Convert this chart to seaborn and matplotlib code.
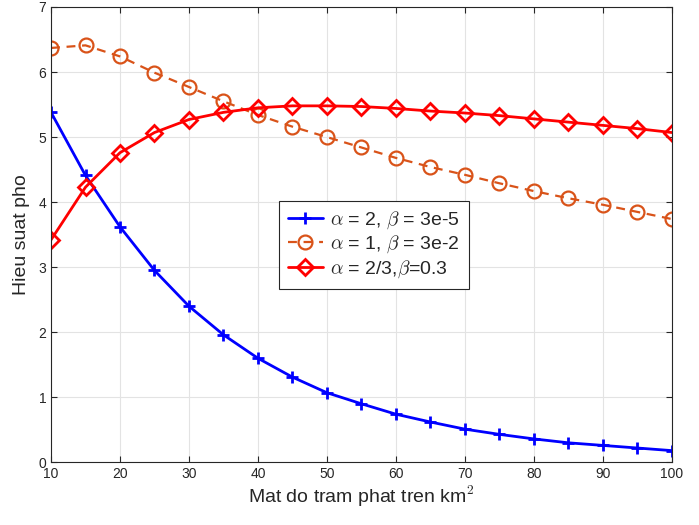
import numpy as np
import pandas as pd
import matplotlib
matplotlib.use("Agg")
import matplotlib.pyplot as plt
import seaborn as sns

density = [10, 15, 20, 25, 30, 35, 40, 45, 50, 55, 60, 65, 70, 75, 80, 85, 90, 95, 100]
se_a2 = [5.38, 4.41, 3.62, 2.95, 2.40, 1.96, 1.60, 1.31, 1.07, 0.90, 0.74, 0.62, 0.51, 0.43, 0.36, 0.30, 0.26, 0.22, 0.18]
se_a1 = [6.37, 6.41, 6.24, 5.99, 5.77, 5.55, 5.34, 5.16, 5.00, 4.84, 4.68, 4.54, 4.42, 4.29, 4.17, 4.06, 3.96, 3.85, 3.74]
se_a23 = [3.42, 4.23, 4.76, 5.07, 5.27, 5.38, 5.45, 5.48, 5.48, 5.47, 5.44, 5.40, 5.37, 5.33, 5.28, 5.23, 5.18, 5.13, 5.07]
labels = [r'$\alpha$ = 2, $\beta$ = 3e-5', r'$\alpha$ = 1, $\beta$ = 3e-2', r'$\alpha$ = 2/3,$\beta$=0.3']

sns.set_style("whitegrid")
plt.rcParams['font.family'] = ['Liberation Sans', 'DejaVu Sans']
plt.rcParams['mathtext.fontset'] = 'cm'

fig, ax = plt.subplots(figsize=(6.99, 5.25), dpi=100)
fig.subplots_adjust(left=0.073, right=0.961, bottom=0.1194, top=0.9867)

df = pd.DataFrame({'x': density, 'a2': se_a2, 'a1': se_a1, 'a23': se_a23})

sns.lineplot(data=df, x='x', y='a2', ax=ax, color=(0, 0, 1), linewidth=2,
             marker='+', markersize=8, markeredgewidth=2, markeredgecolor=(0, 0, 1),
             label=labels[0])
sns.lineplot(data=df, x='x', y='a1', ax=ax, color='#D95319', linewidth=1.6,
             linestyle=(0, (4, 3)), marker='o', markersize=10, markerfacecolor='none',
             markeredgecolor='#D95319', markeredgewidth=1.6, label=labels[1])
sns.lineplot(data=df, x='x', y='a23', ax=ax, color=(1, 0, 0), linewidth=2,
             marker='D', markersize=8, markerfacecolor='none',
             markeredgecolor=(1, 0, 0), markeredgewidth=2, label=labels[2])

ax.set_xlim(10, 100)
ax.set_ylim(0, 7)
ax.set_xticks(np.arange(10, 101, 10))
ax.set_yticks(np.arange(0, 8, 1))
ax.grid(True, color='#e3e3e3', linewidth=0.8)
for s in ax.spines.values():
    s.set_visible(True)
    s.set_color('#262626')
    s.set_linewidth(0.8)
ax.tick_params(direction='in', length=4, width=0.8, colors='#262626', labelsize=10,
               top=True, right=True, bottom=True, left=True, labelcolor='#262626')
ax.set_xlabel(r'Mat do tram phat tren km$^2$', fontsize=14, color='#262626', labelpad=2)
ax.set_ylabel('Hieu suat pho', fontsize=14, color='#262626', labelpad=6)

leg = ax.legend(loc='center', bbox_to_anchor=(0.52, 0.478), fontsize=14,
                frameon=True, fancybox=False, edgecolor='#262626', framealpha=1,
                handlelength=1.8, handletextpad=0.4, borderpad=0.45, labelspacing=0.15)
leg.get_frame().set_linewidth(0.8)

fig.savefig('out.png', dpi=100)
